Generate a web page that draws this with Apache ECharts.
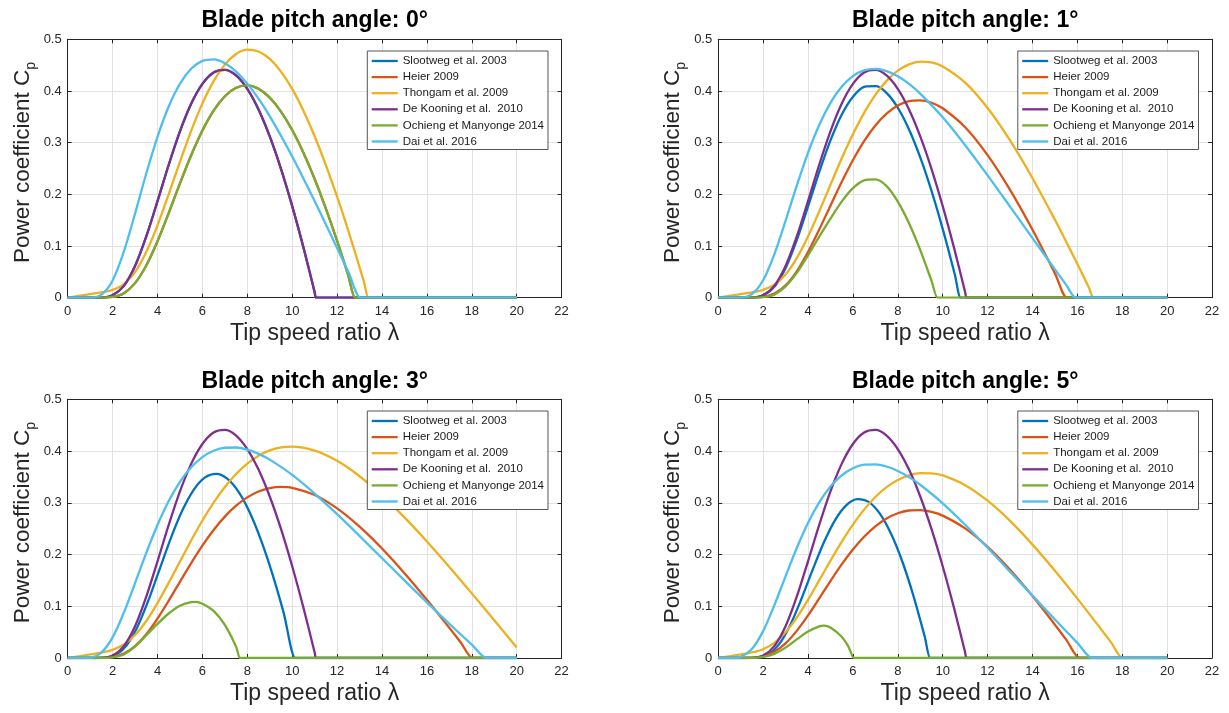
<!DOCTYPE html>
<html><head><meta charset="utf-8">
<script src="https://cdn.jsdelivr.net/npm/echarts@6/dist/echarts.min.js"></script>
<style>html,body{margin:0;padding:0;background:#fff}#chart{width:1229px;height:713px}</style>
</head><body><div id="chart"></div>
<script>
// ---------- data ----------
const pitchAngles = [0, 1, 3, 5];
const modelNames = ['Slootweg et al. 2003', 'Heier 2009', 'Thongam et al. 2009', 'De Kooning et al.  2010', 'Ochieng et Manyonge 2014', 'Dai et al. 2016'];
const modelColors = ['#0072BD', '#D95319', '#EDB120', '#7E2F8E', '#77AC30', '#4DBEEE'];
const xTicks = [0, 2, 4, 6, 8, 10, 12, 14, 16, 18, 20, 22];
const yTicks = [0, 0.1, 0.2, 0.3, 0.4, 0.5];

// [tip speed ratio, Cp]
const slootweg0 = [[0,0],[1,0],[1.5,0.0003],[2,0.0048],[2.5,0.0229],[3,0.0613],[3.5,0.1185],[4,0.1868],[4.5,0.2573],[5,0.3219],[5.5,0.3752],[6,0.4136],[6.5,0.4357],[7,0.4408],[7.5,0.4300],[8,0.4039],[8.5,0.3641],[9,0.3121],[9.5,0.2494],[10,0.1773],[10.5,0.0974],[11,0.0107],[11.06,0],[11.16,0],[20,0]];
const slootweg1 = [[0,0],[1,0],[1.54,0.0004],[2.04,0.0051],[2.54,0.0232],[3.04,0.0610],[3.54,0.1163],[4.04,0.1817],[4.54,0.2484],[5.04,0.3087],[5.54,0.3574],[6.04,0.3910],[6.54,0.4085],[7.04,0.4094],[7.54,0.3944],[8.04,0.3647],[8.54,0.3216],[9.04,0.2666],[9.54,0.2013],[10.04,0.1269],[10.54,0.0450],[10.8,0],[10.9,0],[20,0]];
const slootweg3 = [[0,0],[1,0],[1.62,0.0005],[2.12,0.0056],[2.62,0.0243],[3.12,0.0615],[3.62,0.1142],[4.12,0.1748],[4.62,0.2346],[5.12,0.2865],[5.62,0.3256],[6.12,0.3490],[6.62,0.3559],[7.12,0.3461],[7.62,0.3205],[8.12,0.2803],[8.62,0.2270],[9.12,0.1621],[9.62,0.0873],[10.14,0],[10.24,0],[20,0]];
const slootweg5 = [[0,0],[1,0],[1.7,0.0006],[2.2,0.0064],[2.7,0.0259],[3.2,0.0628],[3.7,0.1135],[4.2,0.1697],[4.7,0.2228],[5.2,0.2661],[5.7,0.2950],[6.2,0.3071],[6.7,0.3018],[7.2,0.2791],[7.7,0.2401],[8.2,0.1865],[8.7,0.1197],[9.2,0.0413],[9.44,0],[9.54,0],[20,0]];

const heier0 = [[0,0],[1.5,0],[2,0.0014],[2.5,0.0088],[3,0.0282],[3.5,0.0623],[4,0.1092],[4.5,0.1639],[5,0.2211],[5.5,0.2756],[6,0.3236],[6.5,0.3621],[7,0.3899],[7.5,0.4063],[8,0.4110],[8.5,0.4045],[9,0.3871],[9.5,0.3602],[10,0.3244],[10.5,0.2805],[11,0.2296],[11.5,0.1725],[12,0.1099],[12.5,0.0428],[12.8,0],[12.9,0],[20,0]];
const heier1 = [[0,0],[1.5,0.0001],[2,0.0014],[2.5,0.0079],[3,0.0239],[3.5,0.0511],[4,0.0882],[4.5,0.1319],[5,0.1781],[5.5,0.2239],[6,0.2660],[6.5,0.3028],[7,0.3331],[7.5,0.3561],[8,0.3718],[8.5,0.3804],[9,0.3820],[9.5,0.3773],[10,0.3666],[11,0.3298],[12,0.2758],[13,0.2086],[14,0.1314],[15,0.0471],[15.53,0],[15.63,0],[20,0]];
const heier3 = [[0,0],[1.5,0.0002],[2,0.0020],[2.5,0.0087],[3,0.0232],[3.5,0.0461],[4,0.0762],[4.5,0.1108],[5,0.1473],[5.5,0.1834],[6,0.2172],[6.5,0.2473],[7,0.2732],[7.5,0.2943],[8,0.3104],[8.5,0.3217],[9,0.3284],[9.5,0.3308],[10,0.3290],[11,0.3150],[12,0.2892],[13,0.2539],[14,0.2116],[15,0.1639],[16,0.1124],[17,0.0582],[17.5,0.0305],[18.04,0],[18.14,0],[20,0]];
const heier5 = [[0,0],[1.5,0.0004],[2,0.0033],[2.5,0.0119],[3,0.0283],[3.5,0.0524],[4,0.0822],[4.5,0.1152],[5,0.1488],[5.5,0.1808],[6,0.2097],[6.5,0.2344],[7,0.2545],[7.5,0.2697],[8,0.2798],[8.5,0.2851],[9,0.2859],[9.5,0.2825],[10,0.2752],[11,0.2505],[12,0.2148],[13,0.1705],[14,0.1197],[15,0.0643],[15.5,0.0354],[16.1,0],[16.2,0],[20,0]];

const thongam0 = [[0,0],[1,0.0068],[1.5,0.0103],[2,0.0151],[2.5,0.0261],[3,0.0495],[3.5,0.0883],[4,0.1400],[4.5,0.2003],[5,0.2630],[5.5,0.3227],[6,0.3760],[6.5,0.4190],[7,0.4510],[7.5,0.4716],[8,0.4800],[8.5,0.4765],[9,0.4620],[9.5,0.4375],[10,0.4040],[10.5,0.3618],[11,0.3125],[11.5,0.2567],[12,0.1954],[12.5,0.1293],[13,0.0590],[13.2,0.0300],[13.4,0],[13.5,0],[20,0]];
const thongam1 = [[0,0],[1,0.0068],[1.5,0.0103],[2,0.0151],[2.5,0.0252],[3,0.0451],[3.5,0.0767],[4,0.1185],[4.5,0.1671],[5,0.2184],[5.5,0.2692],[6,0.3161],[6.5,0.3576],[7,0.3924],[7.5,0.4196],[8,0.4393],[8.5,0.4516],[9,0.4567],[9.5,0.4552],[10,0.4475],[11,0.4162],[12,0.3671],[13,0.3043],[14,0.2312],[15,0.1507],[15.5,0.1084],[16,0.0650],[16.5,0.0209],[16.72,0],[16.82,0],[20,0]];
const thongam3 = [[0,0],[1,0.0068],[1.5,0.0104],[2,0.0157],[2.5,0.0260],[3,0.0444],[3.5,0.0715],[4,0.1061],[4.5,0.1453],[5,0.1865],[5.5,0.2272],[6,0.2657],[6.5,0.3002],[7,0.3304],[7.5,0.3557],[8,0.3757],[8.5,0.3909],[9,0.4012],[9.5,0.4070],[10,0.4086],[11,0.4009],[12,0.3810],[13,0.3513],[14,0.3142],[15,0.2717],[16,0.2252],[17,0.1759],[18,0.1249],[19,0.0728],[20,0.0204]];
const thongam5 = [[0,0],[1,0.0068],[1.5,0.0107],[2,0.0170],[2.5,0.0293],[3,0.0497],[3.5,0.0780],[4,0.1123],[4.5,0.1499],[5,0.1880],[5.5,0.2245],[6,0.2578],[6.5,0.2868],[7,0.3111],[7.5,0.3302],[8,0.3440],[8.5,0.3530],[9,0.3572],[9.5,0.3570],[10,0.3529],[11,0.3341],[12,0.3040],[13,0.2649],[14,0.2191],[15,0.1686],[16,0.1147],[17,0.0587],[17.5,0.0301],[18.01,0],[18.11,0],[20,0]];

const deKooning = [[0,0],[1,0],[1.5,0.0003],[2,0.0048],[2.5,0.0229],[3,0.0613],[3.5,0.1185],[4,0.1868],[4.5,0.2573],[5,0.3219],[5.5,0.3752],[6,0.4136],[6.5,0.4357],[7,0.4408],[7.5,0.4300],[8,0.4039],[8.5,0.3641],[9,0.3121],[9.5,0.2494],[10,0.1773],[10.5,0.0974],[11,0.0107],[11.06,0],[11.16,0],[20,0]];

const ochieng0 = [[0,0],[1.5,0],[2,0.0014],[2.5,0.0088],[3,0.0282],[3.5,0.0623],[4,0.1092],[4.5,0.1639],[5,0.2211],[5.5,0.2756],[6,0.3236],[6.5,0.3621],[7,0.3899],[7.5,0.4063],[8,0.4110],[8.5,0.4045],[9,0.3871],[9.5,0.3602],[10,0.3244],[10.5,0.2805],[11,0.2296],[11.5,0.1725],[12,0.1099],[12.5,0.0428],[12.8,0],[12.9,0],[20,0]];
const ochieng1 = [[0,0],[1.5,0],[2,0.001],[2.5,0.006],[3,0.022],[3.5,0.048],[4,0.082],[4.5,0.118],[5,0.153],[5.5,0.186],[6,0.212],[6.5,0.227],[7,0.229],[7.5,0.216],[8,0.186],[8.5,0.144],[9,0.092],[9.5,0.033],[9.77,0],[9.87,0],[20,0]];
const ochieng3 = [[0,0],[1.5,0],[2,0.001],[2.5,0.007],[3,0.022],[3.5,0.044],[4,0.066],[4.5,0.086],[5,0.101],[5.5,0.108],[5.7,0.1085],[6,0.105],[6.5,0.091],[7,0.064],[7.5,0.022],[7.68,0],[7.78,0],[20,0]];
const ochieng5 = [[0,0],[1.5,0],[2,0.002],[2.5,0.008],[3,0.020],[3.5,0.036],[4,0.051],[4.5,0.061],[4.7,0.0625],[5,0.059],[5.5,0.041],[5.8,0.022],[6.05,0],[6.15,0],[20,0]];

const dai0 = [[0,0],[1,0.0001],[1.5,0.0058],[2,0.0334],[2.5,0.0891],[3,0.1627],[3.5,0.2403],[4,0.3114],[4.5,0.3700],[5,0.4140],[5.5,0.4430],[6,0.4582],[6.5,0.4613],[7,0.4538],[7.5,0.4376],[8,0.4142],[8.5,0.3851],[9,0.3512],[10,0.2733],[11,0.1869],[12,0.0962],[12.5,0.0501],[13.04,0],[13.14,0],[20,0]];
const dai1 = [[0,0],[1,0.0003],[1.5,0.0069],[2,0.0337],[2.5,0.0840],[3,0.1488],[3.5,0.2169],[4,0.2803],[4.5,0.3342],[5,0.3770],[5.5,0.4081],[6,0.4288],[6.5,0.4397],[7,0.4426],[7.5,0.4385],[8,0.4285],[8.5,0.4137],[9,0.3950],[10,0.3490],[11,0.2951],[12,0.2368],[13,0.1763],[14,0.1153],[15,0.0547],[15.5,0.0248],[15.92,0],[16.02,0],[20,0]];
const dai3 = [[0,0],[1,0.0009],[1.5,0.0106],[2,0.0398],[2.5,0.0874],[3,0.1447],[3.5,0.2033],[4,0.2572],[4.5,0.3033],[5,0.3404],[5.5,0.3685],[6,0.3883],[6.5,0.4006],[7,0.4064],[7.5,0.4068],[8,0.4026],[8.5,0.3946],[9,0.3834],[10,0.3540],[11,0.3179],[12,0.2780],[13,0.2359],[14,0.1929],[15,0.1500],[16,0.1075],[17,0.0661],[18,0.0258],[18.66,0],[18.76,0],[20,0]];
const dai5 = [[0,0],[0.5,0],[1,0.0023],[1.5,0.0172],[2,0.0519],[2.5,0.1018],[3,0.1579],[3.5,0.2125],[4,0.2608],[4.5,0.3006],[5,0.3313],[5.5,0.3531],[6,0.3669],[6.5,0.3737],[7,0.3744],[7.5,0.3701],[8,0.3615],[8.5,0.3496],[9,0.3348],[10,0.2990],[11,0.2576],[12,0.2130],[13,0.1669],[14,0.1205],[15,0.0744],[16,0.0292],[16.66,0],[16.76,0],[20,0]];

// per panel, series in legend order
const panelData = [
  [slootweg0, heier0, thongam0, deKooning, ochieng0, dai0],
  [slootweg1, heier1, thongam1, deKooning, ochieng1, dai1],
  [slootweg3, heier3, thongam3, deKooning, ochieng3, dai3],
  [slootweg5, heier5, thongam5, deKooning, ochieng5, dai5]
];

// ---------- layout ----------
const FONT = '"Liberation Sans", Arial, Helvetica, sans-serif';
const AX = '#262626';
const grids = [
  {left: 67.7, top: 39.3, width: 493.9, height: 258.4},
  {left: 718.2, top: 39.3, width: 493.9, height: 258.4},
  {left: 67.7, top: 399.3, width: 493.9, height: 258.7},
  {left: 718.2, top: 399.3, width: 493.9, height: 258.7}
];
const titleY = [20.5, 20.5, 381.5, 381.5];

const xAxes = [], yAxes = [], series = [], legends = [], graphics = [];
grids.forEach((g, i) => {
  const base = {
    type: 'value', gridIndex: i, min: xTicks[0], max: xTicks[xTicks.length - 1], interval: 2,
    axisLine: {show: true, onZero: false, lineStyle: {color: AX, width: 1}},
    axisTick: {show: true, inside: true, length: 4, lineStyle: {color: AX}}
  };
  xAxes.push(Object.assign({}, base, {
    position: 'bottom',
    axisLabel: {color: AX, fontSize: 13, fontFamily: FONT, margin: 7},
    splitLine: {show: true, lineStyle: {color: '#e2e2e2', width: 1}},
    name: 'Tip speed ratio \u03bb', nameLocation: 'middle', nameGap: 24,
    nameTextStyle: {color: AX, fontSize: 23, fontFamily: FONT}
  }));
  xAxes.push(Object.assign({}, base, {position: 'top', axisLabel: {show: false}, splitLine: {show: false}}));
  const ybase = {
    type: 'value', gridIndex: i, min: yTicks[0], max: yTicks[yTicks.length - 1], interval: 0.1,
    axisLine: {show: true, onZero: false, lineStyle: {color: AX, width: 1}},
    axisTick: {show: true, inside: true, length: 4, lineStyle: {color: AX}}
  };
  yAxes.push(Object.assign({}, ybase, {
    position: 'left',
    axisLabel: {color: AX, fontSize: 13, fontFamily: FONT, margin: 6},
    splitLine: {show: true, lineStyle: {color: '#e2e2e2', width: 1}},
    name: '{a|Power coefficient C}{b|p}', nameLocation: 'middle', nameGap: 30, nameRotate: 90,
    nameTextStyle: {color: AX, fontSize: 22.5, fontFamily: FONT, padding: [0, 0, 0, 12],
      rich: {a: {fontSize: 22.5, fontFamily: FONT, color: AX, lineHeight: 30, verticalAlign: 'middle'},
             b: {fontSize: 14, fontFamily: FONT, color: AX, lineHeight: 30, verticalAlign: 'bottom'}}}
  }));
  yAxes.push(Object.assign({}, ybase, {position: 'right', axisLabel: {show: false}, splitLine: {show: false}}));

  panelData[i].forEach((d, k) => {
    series.push({
      type: 'line', name: modelNames[k], data: d, xAxisIndex: 2 * i, yAxisIndex: 2 * i,
      showSymbol: false, symbol: 'none', smooth: 0.3, clip: true,
      lineStyle: {width: 2.3, color: modelColors[k]}, itemStyle: {color: modelColors[k]},
      emphasis: {disabled: true}, animation: false
    });
  });

  legends.push({
    orient: 'vertical', left: g.left + 299.6, top: g.top + 11.7,
    data: modelNames, icon: 'rect', itemWidth: 26, itemHeight: 2.3, itemGap: 2.1,
    textStyle: {fontSize: 11.5, fontFamily: FONT, color: '#1a1a1a', lineHeight: 14},
    backgroundColor: '#ffffff', borderColor: '#555555', borderWidth: 1,
    padding: [3, 4, 1, 4.4], selectedMode: false
  });

  graphics.push({
    type: 'text', x: g.left + g.width / 2, y: titleY[i],
    style: {text: 'Blade pitch angle: ' + pitchAngles[i] + '\u00b0', fill: '#000',
      fontSize: 23, fontWeight: 'bold', fontFamily: FONT, align: 'center', verticalAlign: 'middle'}
  });
});

const chart = echarts.init(document.getElementById('chart'), null, {renderer: 'canvas'});
chart.setOption({
  backgroundColor: '#ffffff',
  animation: false,
  grid: grids,
  xAxis: xAxes,
  yAxis: yAxes,
  legend: legends,
  graphic: graphics,
  series: series
});
</script></body></html>
